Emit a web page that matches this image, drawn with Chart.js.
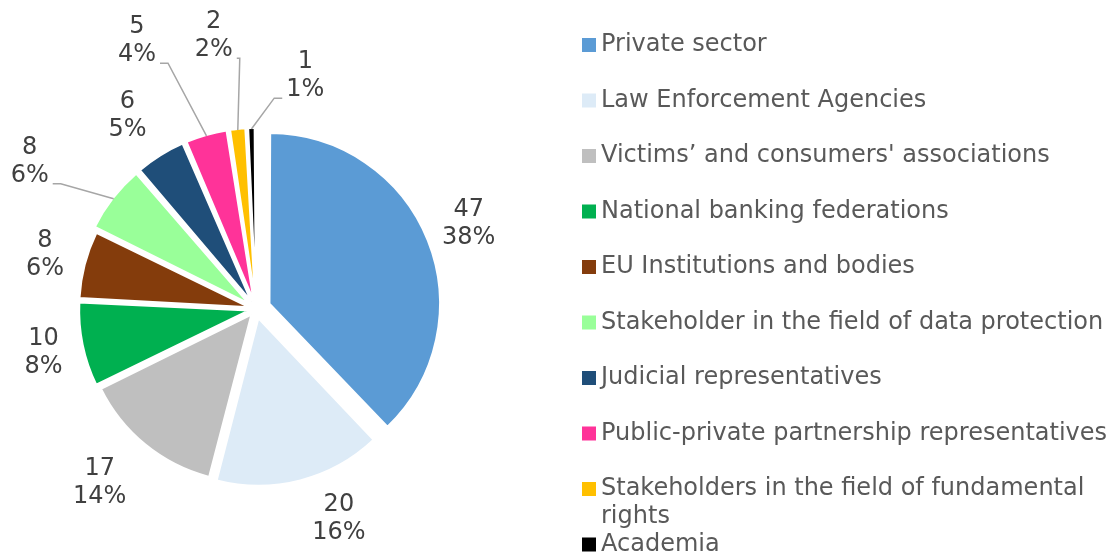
<!DOCTYPE html>
<html>
<head>
<meta charset="utf-8">
<script src="https://cdn.jsdelivr.net/npm/chart.js@4.4.0/dist/chart.umd.min.js"></script>
<style>
  html, body { margin: 0; padding: 0; background: #fff; }
  #wrap { width: 1120px; height: 556px; }
</style>
</head>
<body>
<div id="wrap"><canvas id="pie" width="1120" height="556"></canvas></div>
<script>
const categories = [
  'Private sector',
  'Law Enforcement Agencies',
  'Victims\u2019 and consumers\' associations',
  'National banking federations',
  'EU Institutions and bodies',
  'Stakeholder in the field of data protection',
  'Judicial representatives',
  'Public-private partnership representatives',
  'Stakeholders in the field of fundamental rights',
  'Academia'
];
const responses = [47, 20, 17, 10, 8, 8, 6, 5, 2, 1];
const sliceColors = ['#5B9BD5', '#DDEBF7', '#BFBFBF', '#00B050', '#843C0C',
                     '#99FF99', '#1F4E79', '#FF3399', '#FFC000', '#000000'];

// styling: how far each slice is pulled out (px) and where its label sits
const explode = [19, 11, 9, 11, 11, 15, 15, 15, 15, 15];
const labelRadius = [229, 226, 234, 217, 218, 270, 232, 293, 276, 238];
const labelTurn = [0, -7, 2.7, 0, 0, -4.7, -1.7, -8, -3, 13.4]; // degrees
const leaderElbow = [0, 0, 0, 0, 0, 8, 0, 8, 3, 8]; // 0 = no leader line

const FONT = '24px "DejaVu Sans", Verdana, sans-serif';
const total = responses.reduce((a, b) => a + b, 0);

// chart.js moves an arc by offset/4 * (2 - sin(circumference)), undo that
function offsetFor(i) {
  const c = responses[i] / total * Math.PI * 2;
  return explode[i] * 4 / (2 - Math.sin(Math.min(Math.PI, c)));
}

const sliceLabels = {
  id: 'sliceLabels',
  afterDatasetsDraw(chart) {
    const ctx = chart.ctx;
    const arcs = chart.getDatasetMeta(0).data;
    ctx.save();
    ctx.font = FONT;
    ctx.textAlign = 'center';
    ctx.textBaseline = 'middle';
    arcs.forEach((arc, i) => {
      const p = arc.getProps(['x', 'y', 'startAngle', 'endAngle', 'outerRadius'], true);
      const mid = (p.startAngle + p.endAngle) / 2;
      const a = mid + labelTurn[i] * Math.PI / 180;
      const lx = p.x + Math.cos(a) * labelRadius[i];
      const ly = p.y + Math.sin(a) * labelRadius[i];
      const lines = [String(responses[i]), Math.round(responses[i] / total * 100) + '%'];

      if (leaderElbow[i]) {
        const rr = p.outerRadius + explode[i] - 1;
        const sx = p.x + Math.cos(mid) * rr;
        const sy = p.y + Math.sin(mid) * rr;
        const w = Math.max(...lines.map(t => ctx.measureText(t).width));
        const side = sx > lx ? 1 : -1;
        const ex = lx + side * (w / 2 + 4);
        const ey = ly + 22;
        ctx.strokeStyle = '#A6A6A6';
        ctx.lineWidth = 1.5;
        ctx.beginPath();
        ctx.moveTo(ex, ey);
        ctx.lineTo(ex + side * leaderElbow[i], ey);
        ctx.lineTo(sx, sy);
        ctx.stroke();
      }

      ctx.fillStyle = '#404040';
      ctx.fillText(lines[0], lx, ly - 14);
      ctx.fillText(lines[1], lx, ly + 14);
    });
    ctx.restore();
  }
};

const sideLegend = {
  id: 'sideLegend',
  afterDraw(chart) {
    const ctx = chart.ctx;
    const boxX = 582, textX = 601, top = 45, step = 55.5, lineH = 28;
    const maxW = chart.width - textX - 2;
    ctx.save();
    ctx.font = FONT;
    ctx.textAlign = 'left';
    ctx.textBaseline = 'middle';
    chart.data.labels.forEach((name, i) => {
      const y = top + step * i;
      ctx.fillStyle = chart.data.datasets[0].backgroundColor[i];
      ctx.fillRect(boxX, y - 7, 14, 14);
      // wrap words like the original legend does
      const words = name.split(' ');
      const rows = [];
      let cur = '';
      words.forEach(wd => {
        const test = cur ? cur + ' ' + wd : wd;
        if (ctx.measureText(test).width > maxW && cur) {
          rows.push(cur);
          cur = wd;
        } else {
          cur = test;
        }
      });
      rows.push(cur);
      ctx.fillStyle = '#595959';
      rows.forEach((r, k) => ctx.fillText(r, textX, y + k * lineH));
    });
    ctx.restore();
  }
};

new Chart(document.getElementById('pie'), {
  type: 'pie',
  data: {
    labels: categories,
    datasets: [{
      data: responses,
      backgroundColor: sliceColors,
      borderColor: '#ffffff',
      borderWidth: 2,
      offset: ctx => offsetFor(ctx.dataIndex)
    }]
  },
  options: {
    responsive: false,
    animation: false,
    radius: 166,
    layout: { padding: { left: 0, right: 608, top: 62, bottom: 0 } },
    plugins: {
      legend: { display: false },
      tooltip: { enabled: false }
    }
  },
  plugins: [sliceLabels, sideLegend]
});
</script>
</body>
</html>
